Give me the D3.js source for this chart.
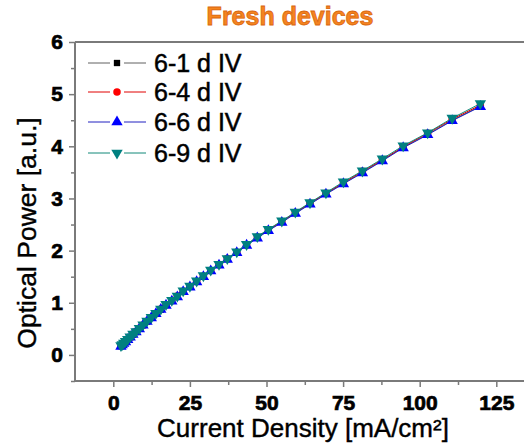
<!DOCTYPE html>
<html>
<head>
<meta charset="utf-8">
<script src="https://cdn.jsdelivr.net/npm/d3@7"></script>
<style>
  html, body { margin: 0; padding: 0; background: #fff; }
  svg { display: block; }
  text { font-family: "Liberation Sans", Arial, sans-serif; }
</style>
</head>
<body>
<svg id="chart" width="524" height="446"></svg>
<script>
// ---- data ----
const currentDensity = [2.5, 2.9, 3.4, 4.0, 4.7, 5.5, 6.4, 7.4, 8.5, 9.7, 11.0, 12.4, 13.9, 15.5, 17.2, 19.1, 20.9, 22.8, 25.0, 27.2, 29.4, 31.8, 34.5, 37.2, 40.3, 43.5, 47.0, 50.6, 55.0, 59.4, 64.2, 69.4, 75.1, 81.3, 87.8, 94.6, 102.6, 110.6, 119.8];
const power61 = [0.17,0.19,0.22,0.25,0.29,0.34,0.39,0.44,0.50,0.57,0.64,0.71,0.79,0.87,0.96,1.04,1.12,1.21,1.31,1.41,1.51,1.62,1.73,1.84,1.97,2.11,2.25,2.39,2.55,2.72,2.90,3.09,3.29,3.50,3.73,3.98,4.23,4.50,4.77];
const power64 = [0.17,0.20,0.22,0.26,0.30,0.34,0.39,0.45,0.51,0.57,0.64,0.72,0.79,0.88,0.96,1.04,1.13,1.22,1.31,1.41,1.51,1.62,1.73,1.85,1.97,2.11,2.26,2.40,2.56,2.73,2.91,3.10,3.30,3.52,3.74,3.99,4.25,4.52,4.79];
const power66 = [0.16,0.19,0.22,0.25,0.29,0.34,0.39,0.44,0.50,0.57,0.64,0.71,0.79,0.87,0.95,1.03,1.11,1.21,1.30,1.40,1.50,1.61,1.72,1.83,1.96,2.10,2.24,2.38,2.54,2.71,2.89,3.08,3.28,3.49,3.72,3.97,4.22,4.49,4.76];
const power69 = [0.18,0.20,0.23,0.26,0.30,0.35,0.40,0.45,0.51,0.58,0.65,0.72,0.80,0.88,0.97,1.05,1.13,1.23,1.32,1.42,1.52,1.63,1.74,1.85,1.98,2.12,2.27,2.41,2.57,2.74,2.92,3.11,3.32,3.53,3.76,4.01,4.26,4.54,4.82];
const seriesNames = ["6-1 d IV", "6-4 d IV", "6-6 d IV", "6-9 d IV"];
const xTicks = [0, 25, 50, 75, 100, 125];
const yTicks = [0, 1, 2, 3, 4, 5, 6];
const titleText = "Fresh devices";
const xLabel = "Current Density [mA/cm\u00B2]";
const yLabel = "Optical Power [a.u.]";

const seriesStyles = [
  { line: "#606060", fill: "#000000", shape: d3.symbolSquare, size: 40, rot: 0 },
  { line: "#e00000", fill: "#ff0000", shape: d3.symbolCircle, size: 44, rot: 0 },
  { line: "#2020c0", fill: "#0000ff", shape: d3.symbolTriangle, size: 56, rot: 0 },
  { line: "#108878", fill: "#008080", shape: d3.symbolTriangle, size: 56, rot: 180 }
];
const seriesValues = [power61, power64, power66, power69];

// ---- layout ----
const svg = d3.select("#chart");
const plotLeft = 75, plotTop = 42, plotBottom = 381;
const x = d3.scaleLinear().domain([-12.5, 137.5]).range([plotLeft, plotLeft + 150 * 3.064]);
const y = d3.scaleLinear().domain([-0.5, 6]).range([plotBottom, plotTop]);
const axisColor = "#7a7a7a";

// title
svg.append("text")
  .attr("x", 290).attr("y", 25)
  .attr("text-anchor", "middle")
  .attr("font-size", 25).attr("font-weight", "bold")
  .attr("fill", "#f5841f")
  .attr("stroke", "#d9670f").attr("stroke-width", 0.8)
  .text(titleText);

// top frame
svg.append("line")
  .attr("x1", plotLeft).attr("x2", 524).attr("y1", plotTop).attr("y2", plotTop)
  .attr("stroke", axisColor).attr("stroke-width", 2);

// x axis
const xAxis = d3.axisBottom(x).tickValues(xTicks).tickSize(6).tickPadding(8).tickFormat(d3.format("d"));
const gx = svg.append("g").attr("transform", `translate(0,${plotBottom})`).call(xAxis);
gx.select(".domain").remove();
gx.append("line").attr("x1", plotLeft).attr("x2", 524).attr("y1", 0).attr("y2", 0)
  .attr("stroke", axisColor).attr("stroke-width", 2);
gx.selectAll(".tick line").attr("stroke", axisColor).attr("stroke-width", 1.5);
gx.selectAll(".tick text").attr("font-size", 21).attr("font-weight", "bold")
  .attr("fill", "#000").attr("stroke", "#000").attr("stroke-width", 0.7)
  .attr("font-family", "Liberation Sans, Arial, sans-serif");
const xMinor = d3.axisBottom(x).tickValues([12.5, 37.5, 62.5, 87.5, 112.5]).tickSize(4).tickFormat("");
const gxm = svg.append("g").attr("transform", `translate(0,${plotBottom})`).call(xMinor);
gxm.select(".domain").remove();
gxm.selectAll(".tick line").attr("stroke", axisColor).attr("stroke-width", 1.5);

// y axis
const yAxis = d3.axisLeft(y).tickValues(yTicks).tickSize(6).tickPadding(6).tickFormat(d3.format("d"));
const gy = svg.append("g").attr("transform", `translate(${plotLeft},0)`).call(yAxis);
gy.select(".domain").remove();
gy.append("line").attr("x1", 0).attr("x2", 0).attr("y1", plotTop).attr("y2", plotBottom)
  .attr("stroke", axisColor).attr("stroke-width", 2);
gy.selectAll(".tick line").attr("stroke", axisColor).attr("stroke-width", 1.5);
gy.selectAll(".tick text").attr("font-size", 21).attr("font-weight", "bold")
  .attr("fill", "#000").attr("stroke", "#000").attr("stroke-width", 0.7)
  .attr("font-family", "Liberation Sans, Arial, sans-serif");
const yMinor = d3.axisLeft(y).tickValues([-0.5, 0.5, 1.5, 2.5, 3.5, 4.5, 5.5]).tickSize(4).tickFormat("");
const gym = svg.append("g").attr("transform", `translate(${plotLeft},0)`).call(yMinor);
gym.select(".domain").remove();
gym.selectAll(".tick line").attr("stroke", axisColor).attr("stroke-width", 1.5);

// axis labels
svg.append("text")
  .attr("x", 303).attr("y", 437)
  .attr("text-anchor", "middle").attr("font-size", 26).attr("fill", "#000")
  .attr("stroke", "#000").attr("stroke-width", 0.4)
  .text(xLabel);
svg.append("text")
  .attr("transform", `translate(36,233) rotate(-90)`)
  .attr("text-anchor", "middle").attr("font-size", 26.5).attr("fill", "#000")
  .attr("stroke", "#000").attr("stroke-width", 0.4)
  .text(yLabel);

// series
const line = d3.line().x(d => x(d[0])).y(d => y(d[1]));
seriesValues.forEach((vals, i) => {
  const st = seriesStyles[i];
  const pts = currentDensity.map((c, k) => [c, vals[k]]);
  const g = svg.append("g");
  g.append("path").datum(pts).attr("d", line)
    .attr("fill", "none").attr("stroke", st.line).attr("stroke-width", 1);
  g.selectAll("path.m").data(pts).enter().append("path").attr("class", "m")
    .attr("d", d3.symbol().type(st.shape).size(st.size))
    .attr("transform", d => `translate(${x(d[0])},${y(d[1])}) rotate(${st.rot})`)
    .attr("fill", st.fill);
});

// legend
const legendY = [63, 92, 122, 153];
seriesNames.forEach((name, i) => {
  const st = seriesStyles[i];
  const g = svg.append("g").attr("transform", `translate(0,${legendY[i]})`);
  g.append("line").attr("x1", 88).attr("x2", 110).attr("y1", 0).attr("y2", 0)
    .attr("stroke", st.line).attr("stroke-width", 1);
  g.append("line").attr("x1", 124).attr("x2", 146).attr("y1", 0).attr("y2", 0)
    .attr("stroke", st.line).attr("stroke-width", 1);
  g.append("path").attr("d", d3.symbol().type(st.shape).size(st.size))
    .attr("transform", `translate(117,0) rotate(${st.rot})`).attr("fill", st.fill);
  g.append("text").attr("x", 154).attr("y", 9).attr("font-size", 25).attr("fill", "#000")
    .attr("stroke", "#000").attr("stroke-width", 0.5)
    .text(name);
});
</script>
</body>
</html>
